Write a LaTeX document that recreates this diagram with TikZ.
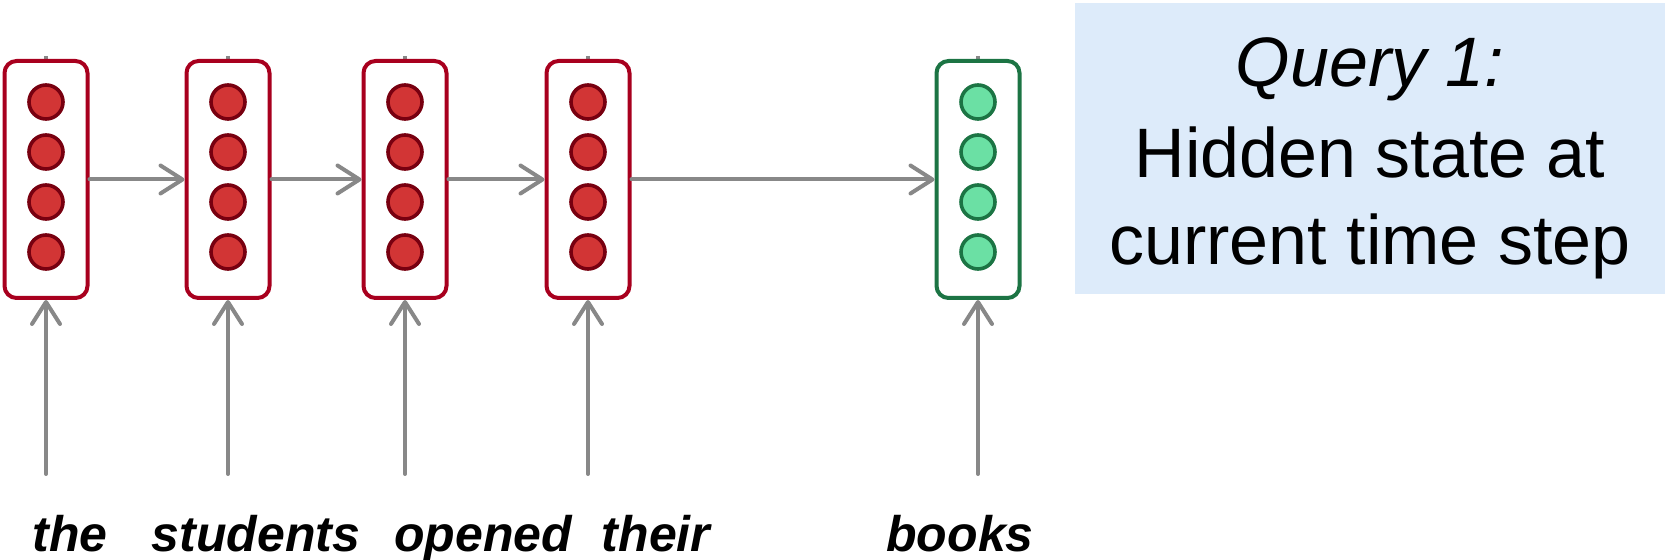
\documentclass[tikz,border=0pt]{standalone}
\usepackage{fontspec}
\setmainfont{Liberation Sans}
\usetikzlibrary{arrows.meta}
\definecolor{boxred}{HTML}{A8001E}
\definecolor{dotred}{HTML}{D23535}
\definecolor{dotredline}{HTML}{780010}
\definecolor{boxgreen}{HTML}{1C7444}
\definecolor{dotgreen}{HTML}{6BE0A4}
\definecolor{conngray}{HTML}{888888}
\definecolor{noteblue}{HTML}{DDEBFA}
\tikzset{
  px/.style={x=0.5pt,y=-0.5pt},
  statebox/.style={draw=#1, line width=2pt, rounded corners=6pt, fill=white,
    minimum width=41.5pt, minimum height=118.5pt, inner sep=0pt},
  unit/.style={circle, draw=#1, line width=1.8pt, minimum size=17pt, inner sep=0pt},
  redunit/.style={unit=dotredline, fill=dotred},
  greenunit/.style={unit=boxgreen, fill=dotgreen},
  conn/.style={draw=conngray, line width=2pt, line cap=round,
    -{Straight Barb[length=11pt, width=14pt, line width=2pt, round]}},
  stub/.style={draw=conngray, line width=2pt},
  word/.style={font=\fontsize{25}{28}\selectfont\bfseries\itshape, anchor=base, inner sep=0pt},
  note/.style={font=\fontsize{35}{44}\selectfont, anchor=base, inner sep=0pt}
}
\begin{document}
\begin{tikzpicture}[px]
\useasboundingbox (0,0) rectangle (1665,560);

% query note
\fill[noteblue] (1075,3) rectangle (1665,294);
\node[note] (q1) at (1370,87) {\itshape Query 1:};
\node[note] (q2) at (1370,178) {Hidden state at};
\node[note] (q3) at (1370,265) {current time step};

% hidden state columns
\foreach \n/\x in {1/46, 2/228, 3/405, 4/588} {
  \draw[stub] (\x,61) -- (\x,56);
  \node[statebox=boxred] (b\n) at (\x,179.5) {};
  \foreach \k/\dy in {1/-77.5, 2/-27.5, 3/22.5, 4/72.5}
    \node[redunit] (u\n\k) at (\x,179.5+\dy) {};
}
\draw[stub] (978,61) -- (978,56);
\node[statebox=boxgreen] (b5) at (978,179.5) {};
\foreach \k/\dy in {1/-77.5, 2/-27.5, 3/22.5, 4/72.5}
  \node[greenunit] (u5\k) at (978,179.5+\dy) {};

% recurrent connections
\draw[conn] (b1.east) -- (b2.west);
\draw[conn] (b2.east) -- (b3.west);
\draw[conn] (b3.east) -- (b4.west);
\draw[conn] (b4.east) -- (b5.west);

% inputs
\foreach \n/\x in {1/46, 2/228, 3/405, 4/588, 5/978} {
  \coordinate (in\n) at (\x,474);
  \draw[conn] (in\n) -- (b\n.south);
}

% words
\node[word] (w1) at (70,552) {the};
\node[word] (w2) at (256,552) {students};
\node[word] (w3) at (483,552) {opened};
\node[word] (w4) at (656,552) {their};
\node[word] (w5) at (960,552) {books};
\end{tikzpicture}
\end{document}
